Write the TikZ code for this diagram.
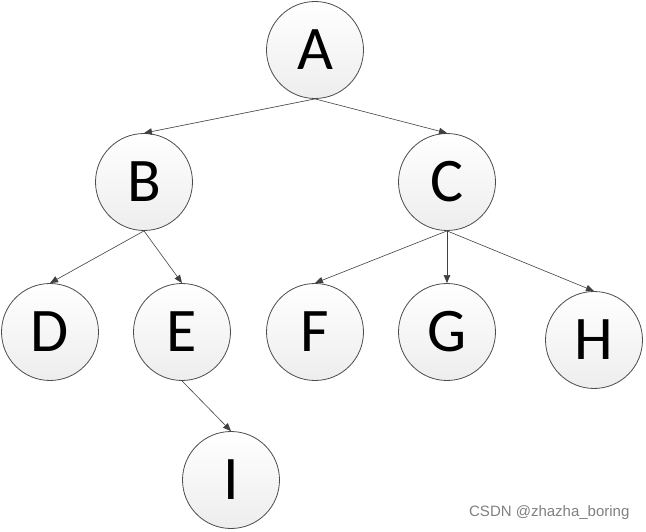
\documentclass[tikz,border=0pt]{standalone}
\usepackage{fontspec}
\setmainfont{Carlito}
\newfontfamily\wmfont{Liberation Sans}
\usetikzlibrary{arrows.meta}

\begin{document}
\begin{tikzpicture}[x=1pt,y=-1pt,line cap=round,line join=round,>={Triangle[length=8pt,width=6.5pt]},
  vtx/.style={circle,draw=black!70,line width=0.8pt,top color=white,bottom color=black!7,minimum size=97pt,inner sep=0pt,font=\fontsize{62}{62}\selectfont}]
  \useasboundingbox (0,0) rectangle (646,532);
  \foreach \nm/\x/\y in {A/315/50,B/144/182,C/447/182,D/50/332,E/182/332,F/315/332,G/447/332,H/594/340,I/231/480}{
    \node[vtx] (\nm) at (\x,\y) {\nm};
  }
  \foreach \p/\c in {A/B,A/C,B/D,B/E,C/F,C/G,C/H,E/I}{
    \draw[->,line width=0.6pt,black!75] (\p.south) -- (\c.north);
  }
  \node[anchor=east,text=black!50,font=\wmfont\fontsize{15}{15}\selectfont] (wm) at (633,513) {CSDN @zhazha\_boring};
\end{tikzpicture}
\end{document}
